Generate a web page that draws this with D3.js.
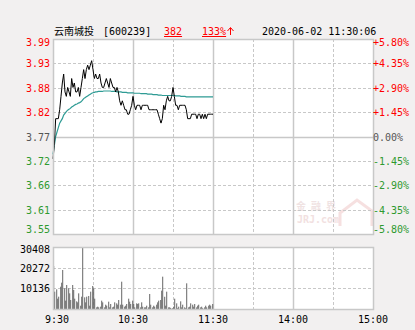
<!DOCTYPE html>
<html lang="zh">
<head>
  <meta charset="UTF-8">
  <title>云南城投 分时</title>
  <script src="https://d3js.org/d3.v7.min.js"></script>
  <style>
    body { margin: 0; background: #f2f0f0; }
    svg { display: block; }
    text { font-family: "DejaVu Sans Mono", monospace; font-size: 10px; }
    .cn { font-family: "Noto Sans CJK SC", sans-serif; }
  </style>
</head>
<body>
  <svg id="chart" width="415" height="330"></svg>

  <script>
    // header
    const stockName = "云南城投";
    const stockCode = "[600239]";
    const headVol = "382";
    const headPct = "133%";
    const stamp = "2020-06-02 11:30:06";

    const prevClose = 3.77;
    const priceTicks = ["3.99", "3.93", "3.88", "3.82", "3.77", "3.72", "3.66", "3.61", "3.55"];
    const pctTicks = ["+5.80%", "+4.35%", "+2.90%", "+1.45%", "0.00%", "-1.45%", "-2.90%", "-4.35%", "-5.80%"];
    const pctValues = [5.8, 4.35, 2.9, 1.45, 0, -1.45, -2.9, -4.35, -5.8];
    const volTicks = [30408, 20272, 10136];
    const timeTicks = ["9:30", "10:30", "11:30", "14:00", "15:00"];
    const timeTickMinutes = [0, 60, 120, 180, 240];

    // one value per minute from 9:30
    const price = [
      3.72, 3.75, 3.81, 3.81, 3.81, 3.83, 3.86, 3.89, 3.91, 3.87,
      3.86, 3.88, 3.87, 3.86, 3.90, 3.88, 3.89, 3.87, 3.87, 3.88,
      3.86, 3.88, 3.90, 3.92, 3.90, 3.92, 3.93, 3.92, 3.93, 3.94,
      3.92, 3.90, 3.91, 3.90, 3.90, 3.91, 3.89, 3.88, 3.88, 3.89,
      3.90, 3.89, 3.88, 3.90, 3.89, 3.88, 3.88, 3.87, 3.88, 3.87,
      3.85, 3.84, 3.85, 3.84, 3.83, 3.83, 3.82, 3.82, 3.83, 3.84,
      3.86, 3.84, 3.83, 3.84, 3.84, 3.84, 3.83, 3.84, 3.84, 3.84,
      3.84, 3.84, 3.83, 3.83, 3.83, 3.83, 3.83, 3.83, 3.83, 3.82,
      3.81, 3.80, 3.81, 3.84, 3.83, 3.85, 3.86, 3.85, 3.85, 3.86,
      3.88, 3.86, 3.84, 3.84, 3.83, 3.84, 3.84, 3.84, 3.84, 3.84,
      3.83, 3.81, 3.81, 3.81, 3.82, 3.82, 3.82, 3.82, 3.81, 3.82,
      3.82, 3.81, 3.82, 3.81, 3.82, 3.81, 3.82, 3.82, 3.82, 3.82,
      3.82
    ];
    const avgPrice = [
      3.73, 3.75, 3.77, 3.78, 3.79, 3.80, 3.805, 3.81, 3.818, 3.822,
      3.826, 3.829, 3.831, 3.833, 3.836, 3.838, 3.840, 3.842, 3.843, 3.845,
      3.846, 3.848, 3.851, 3.855, 3.857, 3.859, 3.861, 3.863, 3.865, 3.867,
      3.868, 3.869, 3.870, 3.870, 3.871, 3.871, 3.871, 3.871, 3.872, 3.872,
      3.872, 3.872, 3.872, 3.872, 3.871, 3.871, 3.871, 3.871, 3.870, 3.870,
      3.870, 3.870, 3.869, 3.869, 3.869, 3.869, 3.868, 3.868, 3.868, 3.868,
      3.868, 3.867, 3.867, 3.867, 3.867, 3.867, 3.866, 3.866, 3.866, 3.866,
      3.866, 3.865, 3.865, 3.865, 3.865, 3.864, 3.864, 3.864, 3.864, 3.863,
      3.863, 3.863, 3.862, 3.862, 3.862, 3.862, 3.862, 3.862, 3.862, 3.862,
      3.862, 3.862, 3.861, 3.861, 3.861, 3.861, 3.860, 3.860, 3.860, 3.860,
      3.859, 3.859, 3.859, 3.859, 3.859, 3.859, 3.859, 3.859, 3.859, 3.859,
      3.859, 3.859, 3.859, 3.859, 3.859, 3.859, 3.859, 3.859, 3.859, 3.859,
      3.859
    ];
    const volume = [
      21090, 8500, 9650, 5070, 6050, 10950, 12910, 19130, 10140, 4090,
      11770, 10140, 7680, 4410, 11770, 9320, 5070, 3760, 3270, 7680,
      1630, 6050, 30408, 5720, 3270, 6050, 6380, 1630, 8500, 11280,
      10140, 5070, 820, 1140, 820, 1140, 4090, 3270, 820, 2120,
      1630, 3600, 820, 2450, 820, 1140, 3270, 2780, 2120, 4410,
      2120, 13400, 2120, 1140, 1630, 2450, 5070, 3600, 2450, 4090,
      2450, 820, 2780, 2450, 2780, 820, 3270, 1140, 820, 820,
      1630, 820, 7360, 2120, 820, 1630, 1140, 2120, 3270, 4090,
      4410, 9000, 15860, 6000, 1630, 8500, 820, 820, 500, 400,
      1140, 5070, 2780, 400, 1140, 3760, 820, 2120, 820, 400,
      12590, 820, 1140, 2780, 2120, 1140, 2450, 820, 1630, 2120,
      820, 1140, 400, 820, 1630, 820, 1630, 2120, 1630, 2450
    ];

    const svg = d3.select("#chart");
    const left = 53, right = 373;
    const mainTop = 39, mainBottom = 234;
    const volTop = 247, volBottom = 309;
    const gridColor = "#c8c8c8";
    const red = "#ff0000", green = "#2f9a2f";

    const x = d3.scaleLinear().domain([0, 240]).range([left, right]);
    const y = d3.scaleLinear()
      .domain([prevClose * (1 - 0.058), prevClose * (1 + 0.058)])
      .range([mainBottom, mainTop]);
    const yVol = d3.scaleLinear().domain([0, d3.max(volTicks)]).range([volBottom, volTop]);

    // panels
    [[mainTop, mainBottom], [volTop, volBottom]].forEach(([t, b]) => {
      svg.append("rect")
        .attr("x", left).attr("y", t)
        .attr("width", right - left).attr("height", b - t)
        .attr("fill", "#fff");
    });

    // watermark (behind the grid)
    const wm = svg.append("g").attr("opacity", 0.55);
    wm.append("text").attr("class", "cn")
      .attr("x", 296).attr("y", 210)
      .attr("font-size", 20).attr("font-weight", "bold")
      .attr("letter-spacing", 5)
      .attr("fill", "#e4cccc")
      .text("金融界");
    wm.append("text")
      .attr("x", 297).attr("y", 223)
      .attr("font-size", 8).attr("font-weight", "bold")
      .attr("fill", "#e8c8c8")
      .text("JRJ.com");
    wm.append("path")
      .attr("d", "M340,226 L340,213 L357,200 L372,211 L372,226")
      .attr("fill", "none")
      .attr("stroke", "#f0c8c8")
      .attr("stroke-width", 3);

    // vertical grid, every 30 minutes
    d3.range(30, 240, 30).forEach(m => {
      const solid = m % 60 === 0;
      [[mainTop, mainBottom], [volTop, volBottom]].forEach(([t, b]) => {
        svg.append("line")
          .attr("x1", Math.round(x(m)) + 0.5).attr("x2", Math.round(x(m)) + 0.5)
          .attr("y1", t).attr("y2", b)
          .attr("stroke", gridColor)
          .attr("stroke-width", solid ? 1.5 : 1)
          .attr("stroke-dasharray", solid ? null : "3,2");
      });
    });

    // horizontal grid, main panel
    pctValues.forEach((p, i) => {
      if (i === 0 || i === pctValues.length - 1) return;
      const yy = Math.round(y(prevClose * (1 + p / 100))) + 0.5;
      svg.append("line")
        .attr("x1", left).attr("x2", right)
        .attr("y1", yy).attr("y2", yy)
        .attr("stroke", gridColor)
        .attr("stroke-width", p === 0 ? 1.5 : 1)
        .attr("stroke-dasharray", p === 0 ? null : "3,2");
    });

    // horizontal grid, volume panel
    volTicks.slice(1).forEach(v => {
      const yy = Math.round(yVol(v)) + 0.5;
      svg.append("line")
        .attr("x1", left).attr("x2", right)
        .attr("y1", yy).attr("y2", yy)
        .attr("stroke", gridColor)
        .attr("stroke-dasharray", "3,2");
    });

    // volume bars
    svg.append("g")
      .selectAll("rect")
      .data(volume)
      .join("rect")
      .attr("x", (d, i) => Math.round(x(i)) + 0.2)
      .attr("y", d => yVol(d))
      .attr("width", 1)
      .attr("height", d => volBottom - yVol(d))
      .attr("fill", "#666");

    // average and price lines
    const line = d3.line().x((d, i) => x(i)).y(d => y(d));
    svg.append("path")
      .datum(avgPrice)
      .attr("d", line)
      .attr("fill", "none")
      .attr("stroke", "#2e9b94")
      .attr("stroke-width", 1.2);
    svg.append("path")
      .datum(price)
      .attr("d", line)
      .attr("fill", "none")
      .attr("stroke", "#000")
      .attr("stroke-width", 1);

    // panel borders
    [[mainTop, mainBottom], [volTop, volBottom]].forEach(([t, b]) => {
      svg.append("rect")
        .attr("x", left + 0.5).attr("y", t + 0.5)
        .attr("width", right - left).attr("height", b - t)
        .attr("fill", "none")
        .attr("stroke", gridColor)
        .attr("stroke-width", 1.5);
    });

    // left price labels and right percent labels
    const clampY = v => Math.max(mainTop + 7, Math.min(mainBottom - 1, v));
    pctValues.forEach((p, i) => {
      const yy = clampY(y(prevClose * (1 + p / 100)) + 4);
      const c = p > 0 ? red : (p < 0 ? green : "#555");
      svg.append("text")
        .attr("x", 50).attr("y", yy)
        .attr("text-anchor", "end")
        .attr("fill", c)
        .text(priceTicks[i]);
      svg.append("text")
        .attr("x", 373).attr("y", yy)
        .attr("fill", c)
        .text(pctTicks[i]);
    });

    // volume labels
    volTicks.forEach(v => {
      const yy = Math.max(volTop + 6, yVol(v) + 4);
      svg.append("text")
        .attr("x", 50).attr("y", yy)
        .attr("text-anchor", "end")
        .attr("fill", "#000")
        .text(v);
    });

    // time labels
    timeTicks.forEach((t, i) => {
      const xx = i === 0 ? x(timeTickMinutes[i]) + 4 : x(timeTickMinutes[i]);
      svg.append("text")
        .attr("x", xx).attr("y", 323)
        .attr("text-anchor", "middle")
        .attr("font-size", 11)
        .attr("fill", "#000")
        .text(t);
    });

    // header
    svg.append("text").attr("class", "cn")
      .attr("x", 54).attr("y", 35)
      .attr("font-size", 10.5)
      .text(stockName);
    svg.append("text")
      .attr("x", 103).attr("y", 35)
      .attr("font-size", 10.5)
      .text(stockCode);
    svg.append("text")
      .attr("x", 164).attr("y", 35)
      .attr("fill", red)
      .attr("text-decoration", "underline")
      .text(headVol);
    svg.append("text")
      .attr("x", 202).attr("y", 35)
      .attr("fill", red)
      .attr("text-decoration", "underline")
      .text(headPct);
    // up arrow after the percent
    svg.append("path")
      .attr("d", "M230.5,35 L230.5,28 M227.5,31 L230.5,27.5 L233.5,31")
      .attr("fill", "none")
      .attr("stroke", red)
      .attr("stroke-width", 1);
    svg.append("text")
      .attr("x", 262).attr("y", 35)
      .text(stamp);
  </script>
</body>
</html>
